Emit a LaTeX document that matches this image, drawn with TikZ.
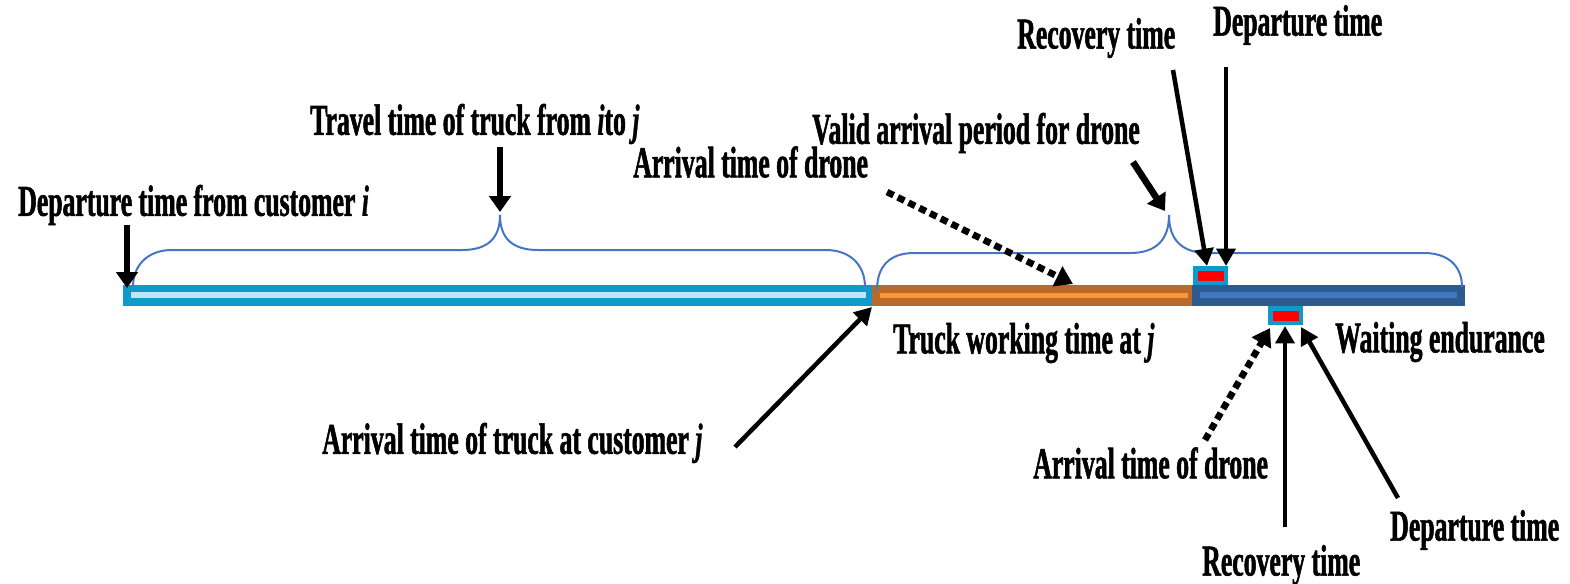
\documentclass[tikz,border=0pt]{standalone}
\usepackage{fontspec}
\setmainfont{Liberation Serif}
\newfontfamily\condfont[FakeStretch=0.585,
  BoldFeatures={FakeBold=1.2},
  BoldItalicFeatures={FakeBold=0.6}]{Liberation Serif}
\usetikzlibrary{arrows.meta}

\definecolor{truckcyan}{HTML}{0F9ACB}
\definecolor{palecyan}{HTML}{BFE6F7}
\definecolor{workbrown}{HTML}{B8692B}
\definecolor{workorange}{HTML}{F8983A}
\definecolor{waitnavy}{HTML}{2D5B8D}
\definecolor{waitblue}{HTML}{3E7AC2}
\definecolor{bracecol}{HTML}{4674C6}
\definecolor{slotred}{HTML}{FF0000}

\tikzset{
  lbl/.style={font=\condfont\bfseries\fontsize{33}{36}\selectfont, inner sep=0pt, anchor=west},
  arr/.style={draw=black, line width=3.4pt, -{Triangle[length=13pt,width=14pt]}},
  bigarr/.style={draw=black, line width=5pt, -{Triangle[length=12pt,width=16pt]}},
  dasharr/.style={draw=black, line width=5pt, dash pattern=on 5.5pt off 3.5pt, -{Triangle[length=13pt,width=16pt]}},
  bracepath/.style={draw=bracecol, line width=1.5pt},
  slotbox/.style={fill=truckcyan, inner sep=0pt, minimum width=26.25pt, minimum height=14.25pt},
  slotred/.style={fill=slotred, inner sep=0pt, minimum width=19.5pt, minimum height=7.5pt}
}

\begin{document}
\begin{tikzpicture}[x=0.75pt, y=-0.75pt]
\useasboundingbox (0,0) rectangle (1570,583);

% time line: travel, working and waiting segments
\fill[truckcyan] (123,285) rectangle (872,306);
\fill[palecyan] (131,292) rectangle (866,298);
\fill[workbrown] (872,285) rectangle (1192,306);
\fill[workorange] (880,293) rectangle (1188,298);
\fill[waitnavy] (1192,285) rectangle (1465,306);
\fill[waitblue] (1200,292) rectangle (1457,298);

% recovery slots
\node[slotbox] (topslot) at (1210.5,275.5) {};
\node[slotred] at (topslot.center) {};
\node[slotbox] (botslot) at (1285.5,315.5) {};
\node[slotred] at (botslot.center) {};

% braces
\draw[bracepath] (133,287) .. controls (133,265) and (148,250) .. (172,250)
  -- (462,250) .. controls (488,250) and (500,238) .. (500,215)
  .. controls (500,238) and (512,250) .. (538,250)
  -- (826,250) .. controls (850,250) and (865,265) .. (865,287);
\draw[bracepath] (877,290) .. controls (877,266) and (890,253) .. (914,253)
  -- (1130,253) .. controls (1156,253) and (1169,240) .. (1169,215)
  .. controls (1169,240) and (1182,253) .. (1208,253)
  -- (1424,253) .. controls (1448,253) and (1462,266) .. (1462,287);

% labels
\node[lbl] (depi) at (18,205) {Departure time from customer \textit{i}};
\node[lbl] (travel) at (310,124) {Travel time of truck from \textit{i}to \textit{j}};
\node[lbl] (arrdroneA) at (633,162) {Arrival time of drone};
\node[lbl] (valid) at (812,133) {Valid arrival period for drone};
\node[lbl] (recovA) at (1017,38) {Recovery time};
\node[lbl] (depA) at (1213,25) {Departure time};
\node[lbl] (truckarr) at (322,443) {Arrival time of truck at customer \textit{j}};
\node[lbl] (working) at (893,343) {Truck working time at \textit{j}};
\node[lbl] (waiting) at (1335,342) {Waiting endurance};
\node[lbl] (arrdroneB) at (1033,463) {Arrival time of drone};
\node[lbl] (recovB) at (1202,565) {Recovery time};
\node[lbl] (depB) at (1390,530) {Departure time};

% arrow end points
\coordinate (depiS) at (127,225);   \coordinate (depiT) at (127,288);
\coordinate (travS) at (500,147);   \coordinate (travT) at (500,212);
\coordinate (droneAS) at (887,192); \coordinate (droneAT) at (1073,284);
\coordinate (validS) at (1133,162); \coordinate (validT) at (1165,211);
\coordinate (recAS) at (1173,70);   \coordinate (recAT) at (1207,266);
\coordinate (depAS) at (1226,67);   \coordinate (depAT) at (1226,266);
\coordinate (truckS) at (735,447);  \coordinate (truckT) at (872,307);
\coordinate (droneBS) at (1205,440); \coordinate (droneBT) at (1270,328);
\coordinate (recBS) at (1285,527);  \coordinate (recBT) at (1285,326);
\coordinate (depBS) at (1398,498);  \coordinate (depBT) at (1301,327);

% arrows
\draw[bigarr] (depiS) -- (depiT);
\draw[bigarr] (travS) -- (travT);
\draw[dasharr] (droneAS) -- (droneAT);
\draw[bigarr] (validS) -- (validT);
\draw[arr] (recAS) -- (recAT);
\draw[arr] (depAS) -- (depAT);
\draw[arr] (truckS) -- (truckT);
\draw[dasharr] (droneBS) -- (droneBT);
\draw[arr] (recBS) -- (recBT);
\draw[arr] (depBS) -- (depBT);
\end{tikzpicture}
\end{document}
